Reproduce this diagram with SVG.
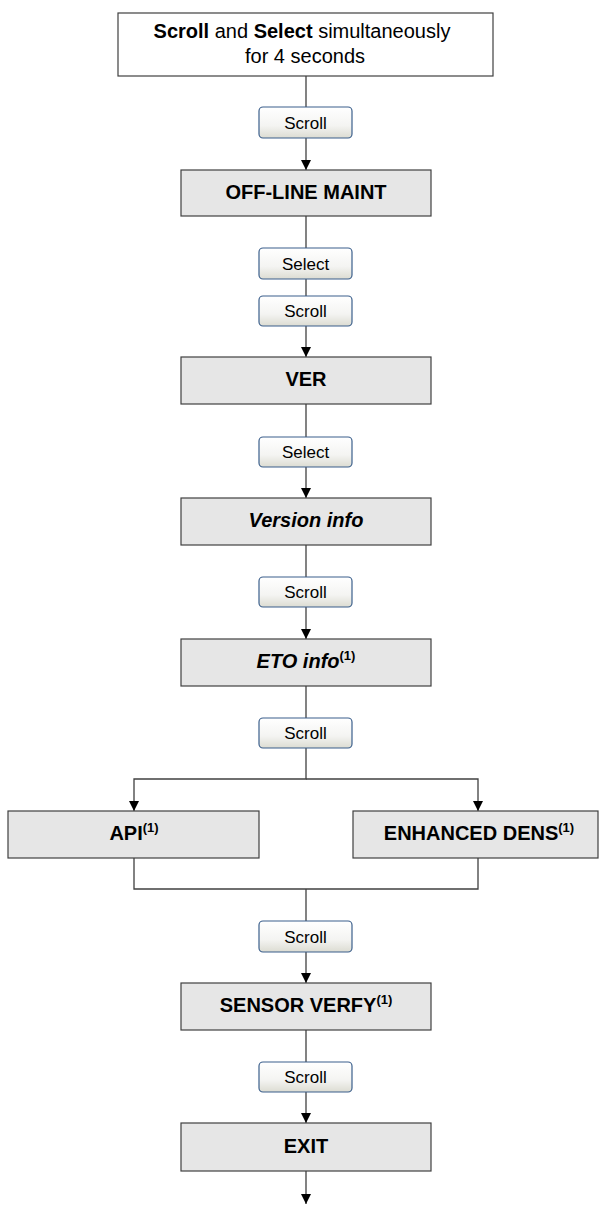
<svg xmlns="http://www.w3.org/2000/svg" width="599" height="1205" viewBox="0 0 599 1205">
<defs>
<linearGradient id="btn" x1="0" y1="0" x2="0" y2="1">
<stop offset="0" stop-color="#ffffff"/>
<stop offset="0.6" stop-color="#f4f4f2"/>
<stop offset="1" stop-color="#dcdcd2"/>
</linearGradient>
<marker id="arr" markerUnits="userSpaceOnUse" markerWidth="12" markerHeight="12" viewBox="0 0 12 12" refX="10" refY="6" orient="auto">
<path d="M0,1 L10,6 L0,11 Z" fill="#000"/>
</marker>
<style>
.box{fill:#e6e6e6;stroke:#404040;stroke-width:1.2}
.top{fill:#fff;stroke:#404040;stroke-width:1.2}
.btn{fill:url(#btn);stroke:#3b5f8c;stroke-width:1.2}
.lbl{font-family:"Liberation Sans",Arial,sans-serif;font-weight:bold;font-size:20px;fill:#000;text-anchor:middle}
.it{font-style:italic}
.sup{font-size:13px;font-style:normal}
.bt{font-family:"Liberation Sans",Arial,sans-serif;font-size:17px;fill:#000;text-anchor:middle}
.tt{font-family:"Liberation Sans",Arial,sans-serif;font-size:20px;fill:#000;text-anchor:middle}
.c{fill:none;stroke:#404040;stroke-width:1.3}
</style>
</defs>
<g id="connectors">
<line class="c" x1="306" y1="76" x2="306" y2="107"/>
<line class="c" x1="306" y1="138" x2="306" y2="170" marker-end="url(#arr)"/>
<line class="c" x1="306" y1="216" x2="306" y2="248"/>
<line class="c" x1="306" y1="279" x2="306" y2="296"/>
<line class="c" x1="306" y1="326" x2="306" y2="357" marker-end="url(#arr)"/>
<line class="c" x1="306" y1="404" x2="306" y2="437"/>
<line class="c" x1="306" y1="467" x2="306" y2="498" marker-end="url(#arr)"/>
<line class="c" x1="306" y1="545" x2="306" y2="577"/>
<line class="c" x1="306" y1="607" x2="306" y2="639" marker-end="url(#arr)"/>
<line class="c" x1="306" y1="686" x2="306" y2="718"/>
<polyline class="c" points="306,748 306,779 134,779 134,811" marker-end="url(#arr)"/>
<polyline class="c" points="306,779 478,779 478,811" marker-end="url(#arr)"/>
<polyline class="c" points="134,858 134,889 478,889 478,858"/>
<line class="c" x1="306" y1="889" x2="306" y2="921"/>
<line class="c" x1="306" y1="952" x2="306" y2="983" marker-end="url(#arr)"/>
<line class="c" x1="306" y1="1030" x2="306" y2="1062"/>
<line class="c" x1="306" y1="1092" x2="306" y2="1123" marker-end="url(#arr)"/>
<line class="c" x1="306" y1="1171" x2="306" y2="1204" marker-end="url(#arr)"/>
</g>
<g id="start">
<rect class="top" x="118" y="13" width="375" height="63"/>
<text class="tt" x="302" y="38"><tspan font-weight="bold">Scroll</tspan> and <tspan font-weight="bold">Select</tspan> simultaneously</text>
<text class="tt" x="305" y="63">for 4 seconds</text>
</g>
<g id="btn1"><rect class="btn" x="259" y="107" width="93" height="31" rx="4"/><text class="bt" x="305.5" y="128.5">Scroll</text></g>
<g id="offline"><rect class="box" x="181" y="170" width="250" height="46"/><text class="lbl" x="306" y="198.5">OFF-LINE MAINT</text></g>
<g id="btn2"><rect class="btn" x="259" y="248" width="93" height="31" rx="4"/><text class="bt" x="305.5" y="269.5">Select</text></g>
<g id="btn3"><rect class="btn" x="259" y="296" width="93" height="30" rx="4"/><text class="bt" x="305.5" y="317">Scroll</text></g>
<g id="ver"><rect class="box" x="181" y="357" width="250" height="47"/><text class="lbl" x="306" y="386">VER</text></g>
<g id="btn4"><rect class="btn" x="259" y="437" width="93" height="30" rx="4"/><text class="bt" x="305.5" y="458">Select</text></g>
<g id="versioninfo"><rect class="box" x="181" y="498" width="250" height="47"/><text class="lbl it" x="306" y="527">Version info</text></g>
<g id="btn5"><rect class="btn" x="259" y="577" width="93" height="30" rx="4"/><text class="bt" x="305.5" y="598">Scroll</text></g>
<g id="etoinfo"><rect class="box" x="181" y="639" width="250" height="47"/><text class="lbl it" x="306" y="668">ETO info<tspan class="sup" dy="-8">(1)</tspan></text></g>
<g id="btn6"><rect class="btn" x="259" y="718" width="93" height="30" rx="4"/><text class="bt" x="305.5" y="739">Scroll</text></g>
<g id="api"><rect class="box" x="8" y="811" width="251" height="47"/><text class="lbl" x="134" y="840">API<tspan class="sup" dy="-8">(1)</tspan></text></g>
<g id="enhanced"><rect class="box" x="353" y="811" width="245" height="47"/><text class="lbl" x="479" y="840">ENHANCED DENS<tspan class="sup" dy="-8">(1)</tspan></text></g>
<g id="btn7"><rect class="btn" x="259" y="921" width="93" height="31" rx="4"/><text class="bt" x="305.5" y="942.5">Scroll</text></g>
<g id="sensor"><rect class="box" x="181" y="983" width="250" height="47"/><text class="lbl" x="306" y="1012">SENSOR VERFY<tspan class="sup" dy="-8">(1)</tspan></text></g>
<g id="btn8"><rect class="btn" x="259" y="1062" width="93" height="30" rx="4"/><text class="bt" x="305.5" y="1083">Scroll</text></g>
<g id="exit"><rect class="box" x="181" y="1123" width="250" height="48"/><text class="lbl" x="306" y="1152.5">EXIT</text></g>
</svg>
